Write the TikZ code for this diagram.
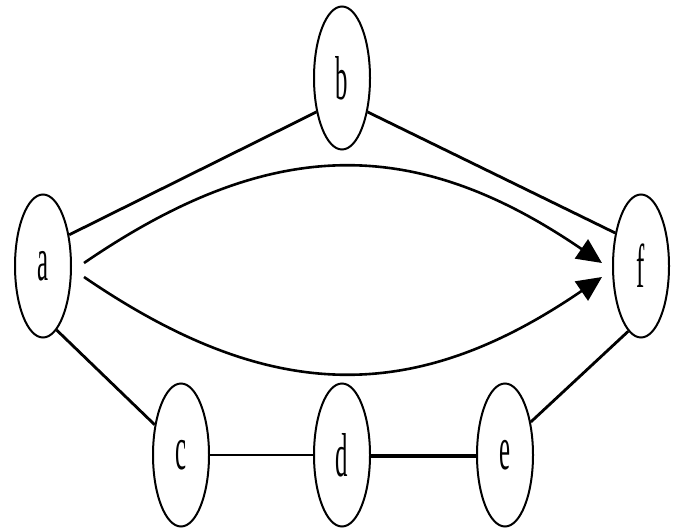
\documentclass[tikz,border=0pt]{standalone}
\usepackage{fontspec}
\setmainfont{Liberation Serif}
\usetikzlibrary{shapes.geometric,arrows.meta}
\tikzset{
  vtx/.style={ellipse,draw,line width=2pt,minimum width=56pt,minimum height=143pt,inner sep=0pt},
  edge/.style={line width=2.8pt},
  arc/.style={line width=2.6pt,-{Triangle[length=25pt,width=23pt]}},
}
\newcommand{\lbl}[1]{\scalebox{0.4}[1]{\fontsize{62}{62}\selectfont #1}}
\begin{document}
\begin{tikzpicture}[x=1pt,y=-1pt]
\useasboundingbox (0,0) rectangle (677,529);
\node[vtx] (a) at (43,266) {\lbl{a}};
\node[vtx] (b) at (342,78) {\lbl{b}};
\node[vtx] (f) at (641,266) {\lbl{f}};
\node[vtx] (c) at (181,455) {\lbl{c}};
\node[vtx] (d) at (342,455) {\lbl{d}};
\node[vtx] (e) at (505,455) {\lbl{e}};
\draw[edge] (a.50) -- (b.233);
\draw[edge] (b.307) -- (f.128);
\draw[edge] (a.282) -- (c.131);
\draw[edge,line width=2.2pt] (c.east) -- (d.west);
\draw[edge,line width=3.2pt] ([yshift=-1pt]d.east) -- ([yshift=-1pt]e.west);
\draw[edge] (e.52) -- (f.259);
\draw[arc] ([xshift=12pt,yshift=3pt]a.east) .. controls +(187,-128) and +(-187,-128) .. ([xshift=-10pt,yshift=3pt]f.west);
\draw[arc] ([xshift=12pt,yshift=-11pt]a.east) .. controls +(187,128) and +(-187,128) .. ([xshift=-10pt,yshift=-11pt]f.west);
\end{tikzpicture}
\end{document}
